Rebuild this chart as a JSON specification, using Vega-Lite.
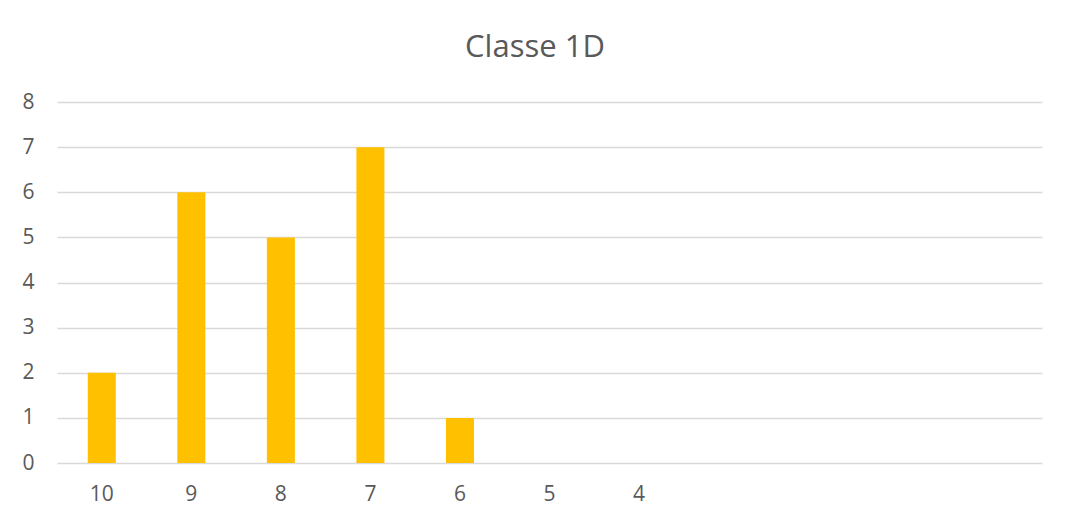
{
  "$schema": "https://vega.github.io/schema/vega-lite/v6.json",
  "width": 985,
  "height": 361,
  "autosize": {"type": "none"},
  "padding": {"left": 57, "top": 102, "right": 26, "bottom": 59},
  "background": "white",
  "title": {
    "text": "Classe 1D",
    "anchor": "middle",
    "frame": "bounds",
    "font": "Open Sans",
    "fontSize": 31,
    "fontWeight": "normal",
    "color": "#595959",
    "baseline": "alphabetic",
    "offset": 3,
    "dx": 3
  },
  "data": {
    "values": [
      {"voto": "10", "n": 2},
      {"voto": "9", "n": 6},
      {"voto": "8", "n": 5},
      {"voto": "7", "n": 7},
      {"voto": "6", "n": 1},
      {"voto": "5", "n": 0},
      {"voto": "4", "n": 0}
    ]
  },
  "mark": {"type": "bar", "color": "#FFC000"},
  "encoding": {
    "x": {
      "field": "voto",
      "type": "nominal",
      "sort": null,
      "scale": {
        "domain": ["10", "9", "8", "7", "6", "5", "4", " ", "  ", "   ", "    "],
        "paddingInner": 0.687,
        "paddingOuter": 0.3435
      },
      "axis": {
        "title": null,
        "labelAngle": 0,
        "domain": false,
        "ticks": false,
        "grid": false,
        "labelFont": "Open Sans",
        "labelFontSize": 21,
        "labelColor": "#595959",
        "labelPadding": 20
      }
    },
    "y": {
      "field": "n",
      "type": "quantitative",
      "scale": {"domain": [0, 8], "nice": false},
      "axis": {
        "title": null,
        "values": [0, 1, 2, 3, 4, 5, 6, 7, 8],
        "domain": false,
        "ticks": false,
        "grid": true,
        "gridColor": "#d9d9d9",
        "gridWidth": 1.5,
        "labelFont": "Open Sans",
        "labelFontSize": 21,
        "labelColor": "#595959",
        "labelPadding": 23
      }
    }
  },
  "config": {"view": {"stroke": null}}
}
